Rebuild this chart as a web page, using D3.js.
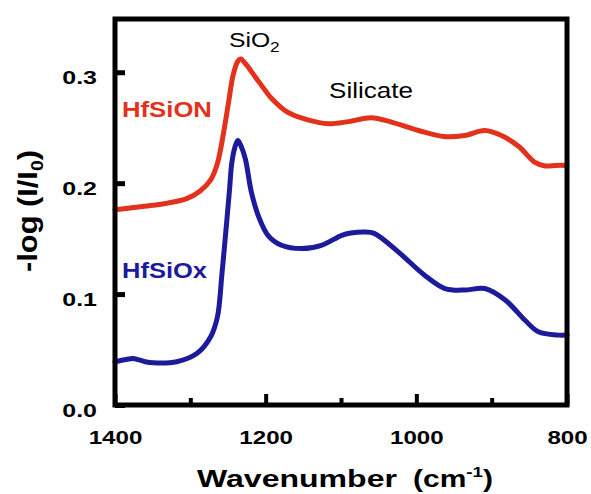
<!DOCTYPE html>
<html>
<head>
<meta charset="utf-8">
<script src="https://cdn.jsdelivr.net/npm/d3@7"></script>
<style>
  body { margin: 0; background: #fff; }
  text { font-family: "Liberation Sans", Arial, Helvetica, sans-serif; fill: #000; }
</style>
</head>
<body>
<svg id="chart" width="591" height="494"></svg>
<script>
// FTIR absorbance spectra, -log(I/I0) against wavenumber (cm-1)
const hfsionWavenumber = [1400, 1375, 1350, 1330, 1305, 1287, 1273, 1264, 1256, 1249, 1243, 1237, 1233, 1226, 1214, 1200, 1193, 1171, 1144, 1117, 1090, 1060, 1033, 997, 963, 936, 909, 887, 864, 843, 829, 815, 800];
const hfsionAbsorbance  = [0.176, 0.178, 0.180, 0.182, 0.186, 0.193, 0.203, 0.218, 0.245, 0.274, 0.298, 0.310, 0.312, 0.307, 0.296, 0.283, 0.277, 0.264, 0.257, 0.2535, 0.2555, 0.259, 0.255, 0.2475, 0.242, 0.243, 0.2475, 0.243, 0.233, 0.219, 0.2155, 0.216, 0.216];

const hfsioxWavenumber = [1400, 1385, 1376, 1360, 1349, 1318, 1291, 1273, 1264, 1258, 1252, 1248, 1245, 1241, 1237, 1233, 1227, 1219, 1210, 1197, 1179, 1152, 1126, 1099, 1087, 1069, 1056, 1024, 989, 962, 936, 909, 882, 856, 838, 811, 800];
const hfsioxAbsorbance  = [0.039, 0.041, 0.042, 0.039, 0.038, 0.039, 0.0466, 0.0615, 0.0795, 0.1186, 0.163, 0.194, 0.218, 0.232, 0.2385, 0.234, 0.222, 0.192, 0.171, 0.153, 0.144, 0.141, 0.144, 0.153, 0.155, 0.156, 0.1547, 0.138, 0.117, 0.105, 0.1036, 0.105, 0.0946, 0.0766, 0.066, 0.063, 0.063];

const xTickValues = [1400, 1300, 1200, 1100, 1000, 900, 800];
const xTickLabels = [1400, 1200, 1000, 800];
const yTickValues = [0, 0.1, 0.2, 0.3];

const W = 591, H = 494;
const frame = { left: 115, right: 567, top: 19, bottom: 405 };
const FONT = '"Liberation Sans", Arial, Helvetica, sans-serif';

const x = d3.scaleLinear().domain([1400, 800]).range([frame.left, frame.right]);
const y = d3.scaleLinear().domain([0, 0.348]).range([frame.bottom, frame.top]);

const svg = d3.select('#chart');
svg.append('rect').attr('width', W).attr('height', H).attr('fill', '#fff');

// widen a text element horizontally so that it spans a given width
function stretch(sel, tx, ty, width, rotate) {
  const node = sel.node();
  const w = node.getBBox().width;
  const s = width / w;
  sel.attr('transform', `translate(${tx},${ty})${rotate ? ' rotate(' + rotate + ')' : ''} scale(${s},1)`);
}

// spectra
const series = [
  { name: 'HfSiON', w: hfsionWavenumber, v: hfsionAbsorbance, color: '#e2321c' },
  { name: 'HfSiOx', w: hfsioxWavenumber, v: hfsioxAbsorbance, color: '#1d1b9b' }
];
const line = d3.line()
  .x(d => x(d[0]))
  .y(d => y(d[1]))
  .curve(d3.curveCatmullRom.alpha(0.5));

svg.append('g').selectAll('path')
  .data(series)
  .join('path')
  .attr('d', s => line(d3.zip(s.w, s.v)))
  .attr('fill', 'none')
  .attr('stroke', s => s.color)
  .attr('stroke-width', 5)
  .attr('stroke-linejoin', 'round')
  .attr('stroke-linecap', 'round');

// x axis ticks (inward), labels on every other tick
const gx = svg.append('g')
  .attr('transform', `translate(0,${frame.bottom})`)
  .call(d3.axisBottom(x).tickValues(xTickValues).tickSize(-11)
    .tickFormat(d => xTickLabels.includes(d) ? String(d) : ''));
gx.select('.domain').remove();
gx.selectAll('.tick line')
  .attr('stroke', '#000')
  .attr('stroke-width', 4)
  .attr('y2', d => xTickLabels.includes(d) ? -11 : -7);
gx.selectAll('.tick text')
  .attr('y', 0).attr('dy', null)
  .attr('font-size', 19).attr('font-weight', 'bold')
  .attr('font-family', FONT).attr('fill', '#000')
  .attr('transform', 'translate(0,39) scale(1.27,1)');

// y axis ticks (inward)
const gy = svg.append('g')
  .attr('transform', `translate(${frame.left},0)`)
  .call(d3.axisLeft(y).tickValues(yTickValues).tickSize(-10).tickFormat(d3.format('.1f')));
gy.select('.domain').remove();
gy.selectAll('.tick line').attr('stroke', '#000').attr('stroke-width', 5);
gy.selectAll('.tick text')
  .attr('x', 0).attr('y', 0).attr('dy', null)
  .attr('font-size', 18.5).attr('font-weight', 'bold')
  .attr('font-family', FONT).attr('fill', '#000')
  .attr('transform', 'translate(-18,11) scale(1.35,1)');

// plot frame
svg.append('rect')
  .attr('x', frame.left).attr('y', frame.top)
  .attr('width', frame.right - frame.left).attr('height', frame.bottom - frame.top)
  .attr('fill', 'none').attr('stroke', '#000').attr('stroke-width', 5);

// series labels
const lblOn = svg.append('text').text('HfSiON')
  .attr('font-size', 22).attr('font-weight', 'bold').style('fill', series[0].color);
stretch(lblOn, 122, 117, 90);
const lblOx = svg.append('text').text('HfSiOx')
  .attr('font-size', 22).attr('font-weight', 'bold').style('fill', series[1].color);
stretch(lblOx, 122, 278, 86);

// band annotations
const sio2 = svg.append('text').attr('font-size', 20);
sio2.append('tspan').text('SiO');
sio2.append('tspan').text('2').attr('font-size', 14).attr('dy', 5);
stretch(sio2, 229, 47, 51);

const silicate = svg.append('text').text('Silicate').attr('font-size', 22);
stretch(silicate, 329, 98, 84);

// axis titles
const xt1 = svg.append('text').text('Wavenumber')
  .attr('font-size', 24).attr('font-weight', 'bold');
stretch(xt1, 197, 487, 200);
const xt2 = svg.append('text').attr('font-size', 24).attr('font-weight', 'bold');
xt2.append('tspan').text('(cm');
xt2.append('tspan').text('-1').attr('font-size', 15).attr('dy', -10);
xt2.append('tspan').text(')').attr('dy', 10);
stretch(xt2, 413, 487, 80);

const yt = svg.append('text').attr('font-size', 27).attr('font-weight', 'bold')
  .attr('text-anchor', 'middle');
yt.append('tspan').text('-log (I/I');
yt.append('tspan').text('0').attr('font-size', 17).attr('dy', 6);
yt.append('tspan').text(')').attr('dy', -6);
stretch(yt, 37, 211, 122, -90);
</script>
</body>
</html>
